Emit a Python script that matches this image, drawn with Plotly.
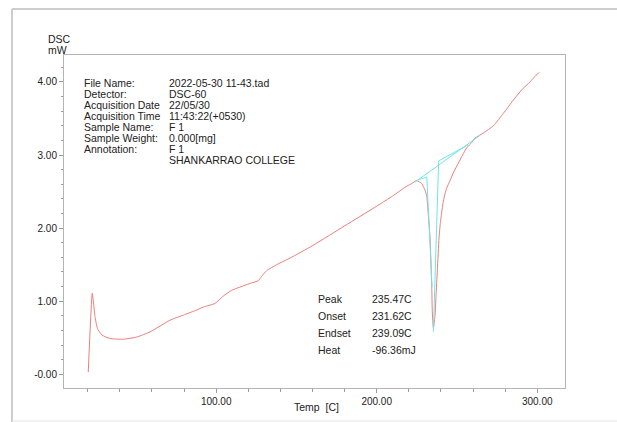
import plotly.graph_objects as go

# ---- data ----
temp = [20.3, 22.8, 23.4, 24.5, 26.0, 28.7, 33.8, 42.1, 50.5, 58.8, 65.0, 71.2, 79.5, 87.9, 92.0,
        99.3, 104.4, 109.7, 116.9, 122.0, 126.2, 128.3, 131.5, 137.7, 146.0, 160.0, 180.0, 200.0,
        210.0, 217.7, 221.8, 224.9, 228.0, 230.1, 231.2, 232.1, 233.2, 233.8, 234.3, 234.6, 235.3,
        236.3, 236.9, 237.8, 238.8, 239.6, 240.5, 241.3, 242.2, 243.5, 245.7, 248.0, 250.9, 253.5,
        256.1, 259.2, 261.2, 266.4, 272.7, 278.9, 285.1, 290.3, 295.5, 299.2, 301.3]
dsc = [0.03, 1.11, 1.02, 0.79, 0.63, 0.54, 0.49, 0.48, 0.51, 0.58, 0.66, 0.74, 0.81, 0.88, 0.92,
       0.97, 1.07, 1.15, 1.21, 1.25, 1.28, 1.34, 1.42, 1.50, 1.59, 1.76, 2.03, 2.30,
       2.44, 2.56, 2.61, 2.65, 2.61, 2.52, 2.43, 2.20, 1.88, 1.52, 1.20, 0.88, 0.63,
       0.79, 1.06, 1.43, 1.86, 2.06, 2.22, 2.34, 2.44, 2.54, 2.65, 2.77, 2.89, 3.00,
       3.10, 3.17, 3.23, 3.30, 3.40, 3.57, 3.75, 3.89, 4.00, 4.09, 4.13]

# analysis construction lines (cyan)
base_t = [223.9, 264.4]
base_v = [2.63, 3.27]
onset_t = [225.9, 231.2, 234.5]
onset_v = [2.66, 2.70, 1.20]
endset_t = [257.1, 238.6, 235.3]
endset_v = [3.14, 2.92, 0.58]

x_tickvals = [100, 200, 300]
x_ticktext = ["100.00", "200.00", "300.00"]
y_tickvals = [0, 1, 2, 3, 4]
y_ticktext = ["-0.00", "1.00", "2.00", "3.00", "4.00"]

info_labels = ["File Name:", "Detector:", "Acquisition Date", "Acquisition Time",
               "Sample Name:", "Sample Weight:", "Annotation:", ""]
info_values = ["2022-05-30 11-43.tad", "DSC-60", "22/05/30", "11:43:22(+0530)",
               "F 1", "0.000[mg]", "F 1", "SHANKARRAO COLLEGE"]
res_labels = ["Peak", "Onset", "Endset", "Heat"]
res_values = ["235.47C", "231.62C", "239.09C", "-96.36mJ"]

# ---- layout geometry (pixels) ----
W, H = 617, 422
L, R, T, B = 64, 565, 55, 388
FONT = "Liberation Sans, Arial, sans-serif"
TXT = "#222222"

def px(x):
    return (x - L) / (R - L)

def py(y):
    return (B - y) / (B - T)

fig = go.Figure()
fig.add_trace(go.Scatter(x=temp, y=dsc, mode="lines",
                         line=dict(color="#ea7f7c", width=1, shape="spline", smoothing=0.5),
                         hoverinfo="skip", showlegend=False))
for xs, ys in [(base_t, base_v), (onset_t, onset_v), (endset_t, endset_v)]:
    fig.add_trace(go.Scatter(x=xs, y=ys, mode="lines",
                             line=dict(color="#72e4e7", width=1),
                             hoverinfo="skip", showlegend=False))

ann = []
row0, dy = 82.7, 11.05
for i, (lab, val) in enumerate(zip(info_labels, info_values)):
    yy = row0 + dy * i
    if lab:
        ann.append(dict(x=px(82), y=py(yy), text=lab))
    ann.append(dict(x=px(167), y=py(yy), text=val))
for i, (lab, val) in enumerate(zip(res_labels, res_values)):
    yy = 299 + 16.9 * i
    ann.append(dict(x=px(316), y=py(yy), text=lab))
    ann.append(dict(x=px(370), y=py(yy), text=val))
ann.append(dict(x=px(46), y=py(39), text="DSC"))
ann.append(dict(x=px(46), y=py(49.5), text="mW"))
ann.append(dict(x=px(292), y=py(407), text="Temp&nbsp;&nbsp;[C]"))
annotations = []
for a in ann:
    a.update(xref="paper", yref="paper", xanchor="left", yanchor="middle",
             showarrow=False, font=dict(family=FONT, size=10.5, color=TXT))
    annotations.append(a)

frame = "#cdcdcd"
shapes = [
    dict(type="line", xref="paper", yref="paper", x0=px(12), x1=px(12), y0=py(9), y1=py(422),
         line=dict(color=frame, width=2)),
    dict(type="line", xref="paper", yref="paper", x0=px(12), x1=px(620), y0=py(9), y1=py(9),
         line=dict(color=frame, width=2)),
    dict(type="line", xref="paper", yref="paper", x0=px(12), x1=px(620), y0=py(421), y1=py(421),
         line=dict(color="#e6e6e6", width=1)),
]

axis_common = dict(showgrid=False, zeroline=False, showline=True, mirror=True,
                   linecolor="#b4b4b4", linewidth=1, ticks="outside", tickcolor="#9a9a9a",
                   tickfont=dict(family=FONT, size=10, color=TXT), tickmode="array")

fig.update_layout(
    width=W, height=H, autosize=False,
    margin=dict(l=L, r=W - R, t=T, b=H - B, pad=0),
    paper_bgcolor="white", plot_bgcolor="white",
    showlegend=False,
    xaxis=dict(range=[5.2, 317.3], tickvals=x_tickvals, ticktext=x_ticktext, ticklen=4,
               minor=dict(tickmode="linear", tick0=0, dtick=20, ticks="outside", ticklen=3,
                          tickcolor="#9a9a9a"),
               **axis_common),
    yaxis=dict(range=[-0.187, 4.368], tickvals=y_tickvals, ticktext=y_ticktext, ticklen=4,
               minor=dict(tickmode="linear", tick0=0, dtick=0.2, ticks="outside", ticklen=2,
                          tickcolor="#9a9a9a"),
               **axis_common),
    annotations=annotations,
    shapes=shapes,
)

fig.write_html("out.html")
